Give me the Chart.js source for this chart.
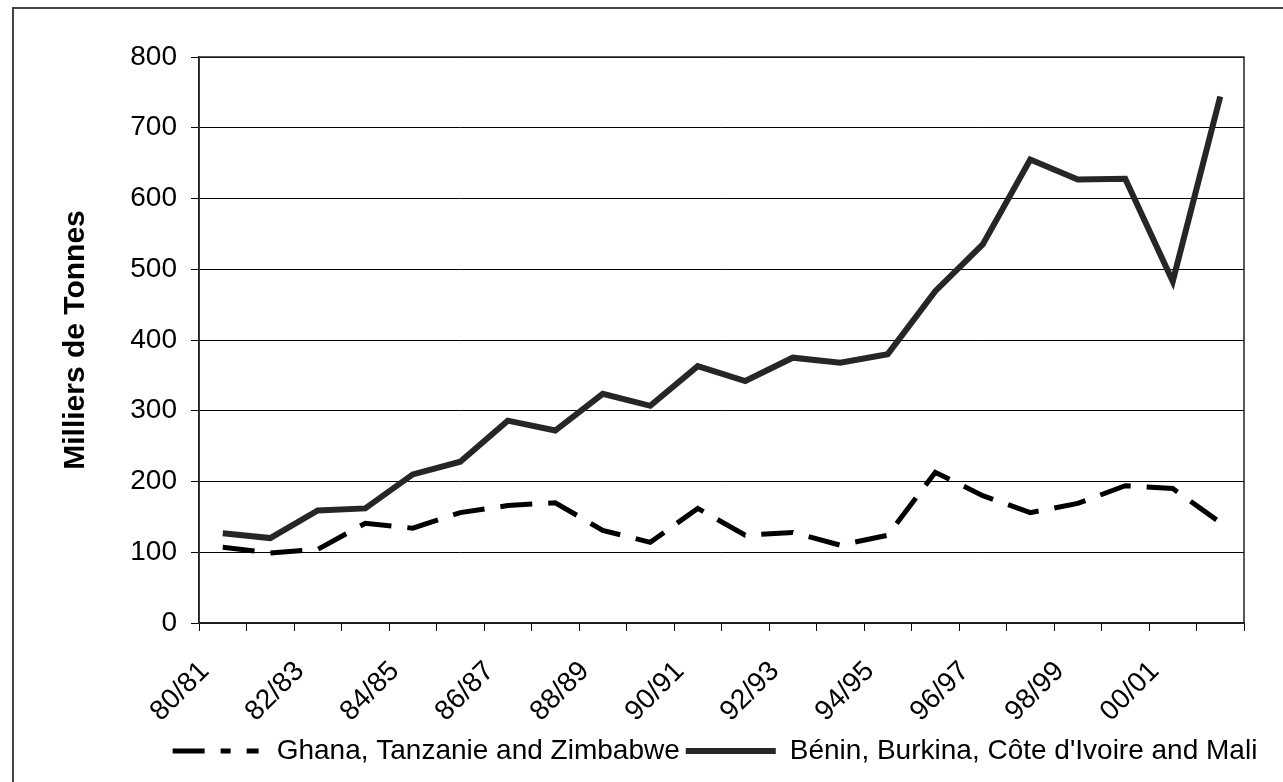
<!DOCTYPE html>
<html>
<head>
<meta charset="utf-8">
<script src="https://cdn.jsdelivr.net/npm/chart.js@4.4.1/dist/chart.umd.min.js"></script>
<style>
  html, body { margin: 0; padding: 0; background: #fff; }
  #wrap { width: 1283px; height: 782px; position: relative; }
</style>
</head>
<body>
<div id="wrap"><canvas id="chart" width="1283" height="782"></canvas></div>
<script>
// campaigns 80/81 .. 01/02 (labels shown every other year)
const seasons = ['80/81','81/82','82/83','83/84','84/85','85/86','86/87','87/88','88/89','89/90',
                 '90/91','91/92','92/93','93/94','94/95','95/96','96/97','97/98','98/99','99/00',
                 '00/01','01/02'];
const ghanaTanzZimb = [107, 99, 104, 141, 134, 156, 166, 170, 131, 114, 162, 124, 128, 110, 124, 213, 180, 156, 169, 194, 190, 142];
const beninBurkCivMali = [127, 120, 159, 162, 210, 228, 286, 272, 324, 307, 363, 342, 375, 368, 380, 469, 535, 655, 627, 628, 483, 744];
const yTicks = [0, 100, 200, 300, 400, 500, 600, 700, 800];

const FONT = '"Liberation Sans", Arial, sans-serif';

// frame around the plot area + outer border of the picture
const framePlugin = {
  id: 'frame',
  beforeDraw(chart) {
    const c = chart.ctx;
    c.save();
    c.strokeStyle = '#444';
    c.lineWidth = 2;
    c.beginPath();
    c.moveTo(13, 782); c.lineTo(13, 8); c.lineTo(1283, 8);
    c.stroke();
    c.restore();
  },
  afterDraw(chart) {
    const a = chart.chartArea, c = chart.ctx;
    c.save();
    c.strokeStyle = '#222';
    c.lineWidth = 1.5;
    c.strokeRect(a.left, a.top, a.right - a.left, a.bottom - a.top);
    c.restore();
  }
};

// legend sits a bit right of the canvas centre
const legendShift = {
  id: 'legendShift',
  afterLayout(chart) {
    chart.legend.left += 93;
    chart.legend.right += 93;
  }
};

new Chart(document.getElementById('chart'), {
  type: 'line',
  data: {
    labels: seasons,
    datasets: [
      {
        label: 'Ghana, Tanzanie and Zimbabwe',
        data: ghanaTanzZimb,
        borderColor: '#000',
        backgroundColor: '#000',
        borderWidth: 5,
        borderDash: [32, 16],
        pointRadius: 0,
        tension: 0,
      },
      {
        label: "Bénin, Burkina, Côte d'Ivoire and Mali",
        data: beninBurkCivMali,
        borderColor: '#262626',
        backgroundColor: '#262626',
        borderWidth: 6,
        pointRadius: 0,
        tension: 0,
      },
    ],
  },
  options: {
    responsive: false,
    animation: false,
    layout: { padding: { left: 0, right: 39, top: 57, bottom: 7 } },
    plugins: {
      tooltip: { enabled: false },
      legend: {
        position: 'bottom',
        labels: {
          color: '#000',
          font: { family: FONT, size: 28 },
          usePointStyle: true,
          pointStyle: 'line',
          pointStyleWidth: 90,
          padding: 6,
          generateLabels(chart) {
            const items = Chart.defaults.plugins.legend.labels.generateLabels(chart);
            items.forEach(it => {
              it.pointStyle = 'line';
              if (it.datasetIndex === 0) it.lineDash = [32, 16, 10, 16, 12];
            });
            return items;
          },
        },
      },
    },
    scales: {
      x: {
        offset: true,
        grid: { offset: true, drawOnChartArea: false, color: '#000', tickLength: 8, lineWidth: 1 },
        border: { color: '#222', width: 1.5 },
        ticks: {
          autoSkip: false,
          maxRotation: 45,
          minRotation: 45,
          padding: 24,
          labelOffset: -18,
          color: '#000',
          font: { family: FONT, size: 28 },
          callback: (v, i) => (i % 2 === 0 ? seasons[i] : ''),
        },
        afterFit(s) { s.height = 108; },
      },
      y: {
        min: 0,
        max: 800,
        afterBuildTicks(s) { s.ticks = yTicks.map(v => ({ value: v })); },
        grid: { color: '#000', lineWidth: 1, tickLength: 8 },
        border: { color: '#222', width: 1.5 },
        ticks: {
          padding: 14,
          color: '#000',
          font: { family: FONT, size: 28 },
        },
        title: {
          display: true,
          text: 'Milliers de Tonnes',
          color: '#000',
          font: { family: FONT, size: 30, weight: 'bold' },
          padding: { top: 58, bottom: 0 },
        },
        afterFit(s) { s.width = 199; },
      },
    },
  },
  plugins: [framePlugin, legendShift],
});
</script>
</body>
</html>
